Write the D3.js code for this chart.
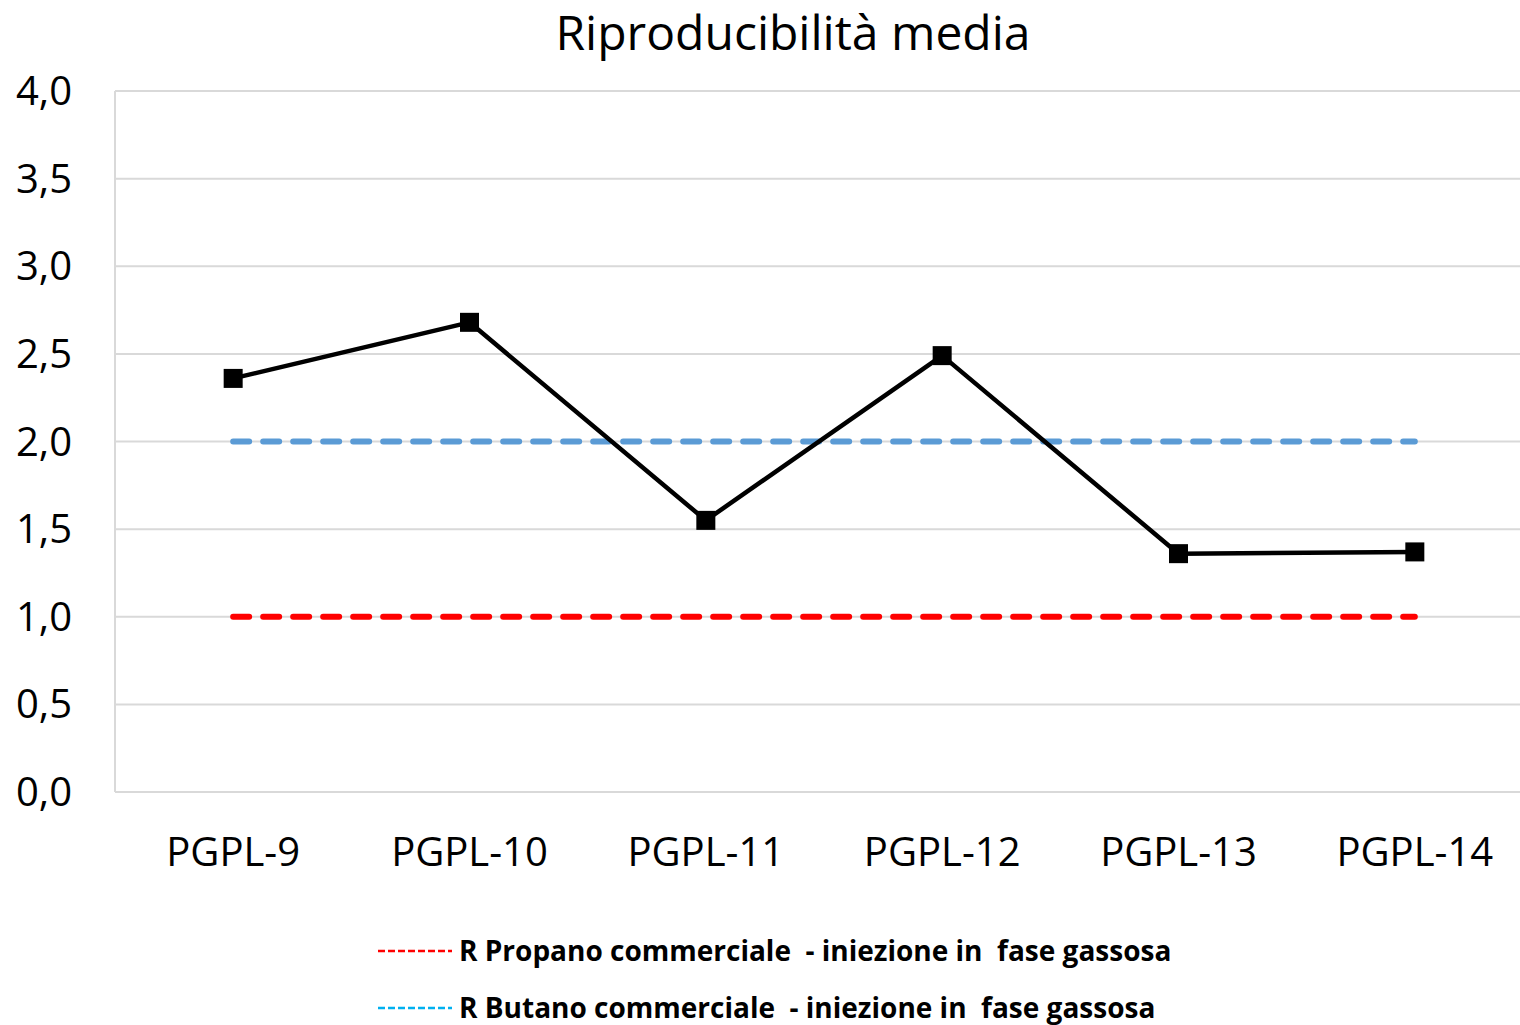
<!DOCTYPE html>
<html lang="it">
<head>
<meta charset="utf-8">
<style>
  body { margin: 0; background: #fff; }
  text { font-family: "Open Sans", sans-serif; fill: #000; }
  .grid line { stroke: #d9d9d9; stroke-width: 2px; }
</style>
</head>
<body>
<svg width="1520" height="1025"></svg>
<script src="https://d3js.org/d3.v7.min.js"></script>
<script>
// data
var categories = ["PGPL-9", "PGPL-10", "PGPL-11", "PGPL-12", "PGPL-13", "PGPL-14"];
var mediaValues = [2.36, 2.68, 1.55, 2.49, 1.36, 1.37];
var propanoLimit = 1.0;
var butanoLimit = 2.0;
var yTicks = [0, 0.5, 1, 1.5, 2, 2.5, 3, 3.5, 4];
var legendLabels = [
  "R Propano commerciale  - iniezione in  fase gassosa",
  "R Butano commerciale  - iniezione in  fase gassosa"
];

var svg = d3.select("svg");
var plotLeft = 115, plotRight = 1533, plotTop = 91, plotBottom = 792;

var x = d3.scaleBand().domain(categories).range([plotLeft, plotRight]);
var y = d3.scaleLinear().domain([0, 4]).range([plotBottom, plotTop]);
var cx = function (d) { return x(d) + x.bandwidth() / 2; };

// title
svg.append("text")
  .attr("x", 793).attr("y", 50)
  .attr("text-anchor", "middle")
  .style("font-size", "48px")
  .text("Riproducibilità media");

// gridlines
svg.append("g").attr("class", "grid")
  .selectAll("line").data(yTicks).enter().append("line")
  .attr("x1", plotLeft).attr("x2", plotRight)
  .attr("y1", function (d) { return y(d); })
  .attr("y2", function (d) { return y(d); });

svg.append("line")
  .attr("x1", plotLeft).attr("x2", plotLeft).attr("y1", plotTop).attr("y2", plotBottom)
  .style("stroke", "#d9d9d9").style("stroke-width", 2);

// y labels
var fmt = function (d) { return d3.format(".1f")(d).replace(".", ","); };
svg.append("g").selectAll("text").data(yTicks).enter().append("text")
  .attr("x", 72)
  .attr("y", function (d) { return y(d); })
  .attr("dy", "0.35em")
  .attr("text-anchor", "end")
  .style("font-size", "40px")
  .text(fmt);

// x labels
svg.append("g").selectAll("text").data(categories).enter().append("text")
  .attr("x", cx)
  .attr("y", 866)
  .attr("text-anchor", "middle")
  .style("font-size", "40px")
  .text(function (d) { return d; });

// limit lines
var first = categories[0], last = categories[categories.length - 1];
[[butanoLimit, "#5b9bd5"], [propanoLimit, "#ff0000"]].forEach(function (l) {
  svg.append("line")
    .attr("x1", cx(first)).attr("x2", cx(last))
    .attr("y1", y(l[0])).attr("y2", y(l[0]))
    .style("stroke", l[1])
    .style("stroke-width", 6)
    .style("stroke-linecap", "round")
    .style("stroke-dasharray", "16,14");
});

// main series
var line = d3.line()
  .x(function (d, i) { return cx(categories[i]); })
  .y(function (d) { return y(d); });

svg.append("path")
  .datum(mediaValues)
  .attr("d", line)
  .style("fill", "none")
  .style("stroke", "#000")
  .style("stroke-width", 4.5)
  .style("stroke-linejoin", "round");

svg.append("g").selectAll("rect").data(mediaValues).enter().append("rect")
  .attr("x", function (d, i) { return cx(categories[i]) - 9.5; })
  .attr("y", function (d) { return y(d) - 9.5; })
  .attr("width", 19).attr("height", 19)
  .style("fill", "#000");

// legend
var legendColors = ["#ff0000", "#00b0f0"];
var legend = svg.append("g").selectAll("g").data(legendLabels).enter().append("g")
  .attr("transform", function (d, i) { return "translate(0," + (951 + i * 57) + ")"; });

legend.append("line")
  .attr("x1", 378).attr("x2", 452)
  .style("stroke", function (d, i) { return legendColors[i]; })
  .style("stroke-width", 2.5)
  .style("stroke-dasharray", "7,3");

legend.append("text")
  .attr("x", 459).attr("dy", "0.36em")
  .style("font-size", "28px")
  .style("font-weight", "bold")
  .style("white-space", "pre")
  .text(function (d) { return d; });
</script>
</body>
</html>
